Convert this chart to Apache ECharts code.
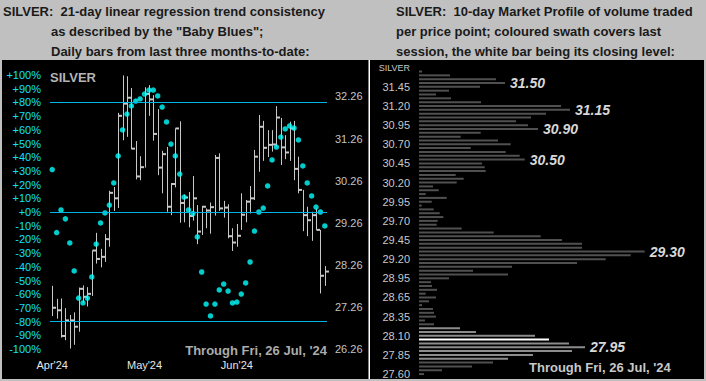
<!DOCTYPE html>
<html>
<head>
<meta charset="utf-8">
<script src="https://cdn.jsdelivr.net/npm/echarts@6/dist/echarts.min.js"></script>
<style>
html,body{margin:0;padding:0;background:#c0c0c0;}
#c{width:706px;height:381px;}
</style>
</head>
<body>
<div id="c"></div>
<script>
// ---------- Left panel: daily bars + Baby Blues ----------
var monthLabels = ["Apr'24", "May'24", "Jun'24"];
var monthIndex = [0, 21, 42];
var pctLevels = [80, 0, -80];
var priceTicks = ['26.26', '27.26', '28.26', '29.26', '30.26', '31.26', '32.26'];

var babyBlues = [31, -15, 1.5, -5, -22.6, -43, -62.8, -66.4, -62.8, -47.4, -23.4, -8, -0.7, 5.1, 21.2, 40.9,
  59.9, 71.5, 77.4, 81, 82.5, 86.1, 89, 89, 84.7, 76.6, 65.7, 49.6, 40.9, 27.7, 10.9, 1.5, -1.1, -18.2,
  -43.8, -67.2, -75.9, -67.2, -56.9, -52.6, -57.7, -66.4, -65.7, -59.9, -51.8, -36.5, -13.9, 0, 2.9, 19,
  38, 47.4, 54.7, 60.6, 62.8, 61.3, 52.6, 33.6, 21.2, 11.7, 3.6, 0, -10.2];

var highs = [27.76, 27.45, 27.46, 27.23, 27.07, 27.13, 27.72, 27.77, 27.73, 28.60, 29.02, 28.64, 28.99, 30.02,
  30.11, 31.87, 32.76, 32.74, 32.46, 31.20, 30.84, 32.48, 32.53, 32.29, 31.96, 30.97, 31.06, 30.20, 31.50,
  31.67, 29.93, 29.99, 30.37, 29.68, 29.66, 29.60, 29.74, 30.87, 30.91, 29.78, 29.70, 29.13, 29.23, 29.96,
  29.80, 30.13, 30.99, 31.82, 31.68, 31.46, 31.46, 32.03, 31.75, 31.34, 31.66, 31.68, 30.83, 30.04, 29.64,
  29.52, 29.60, 29.09, 28.23];
var lows = [27.04, 26.98, 26.53, 26.47, 26.27, 26.36, 26.67, 27.36, 27.27, 27.52, 28.29, 28.20, 28.33, 28.69,
  29.54, 29.61, 31.22, 31.30, 31.01, 30.29, 30.27, 30.57, 31.80, 31.21, 30.39, 29.96, 29.52, 29.44, 30.10,
  29.26, 29.27, 29.15, 29.31, 28.75, 28.97, 29.13, 29.00, 29.43, 29.54, 29.38, 28.89, 28.59, 28.69, 29.09,
  29.27, 29.48, 29.80, 30.47, 30.73, 30.82, 30.95, 31.07, 30.63, 30.77, 30.73, 30.27, 29.96, 29.06, 28.94,
  28.83, 29.09, 27.58, 27.76];
var closes = [27.24, 27.18, 26.57, 26.94, 26.94, 26.79, 27.69, 27.50, 27.57, 28.60, 28.40, 28.45, 28.87, 29.97,
  29.84, 31.80, 32.09, 32.23, 31.02, 30.36, 30.58, 32.32, 32.19, 31.37, 30.57, 30.89, 29.64, 30.18, 31.50,
  29.73, 29.86, 29.42, 29.84, 29.05, 29.64, 29.55, 29.63, 30.80, 29.60, 29.62, 28.94, 28.79, 28.95, 29.45,
  29.76, 29.84, 30.83, 31.54, 31.04, 31.11, 31.12, 31.76, 31.05, 30.93, 31.50, 30.54, 30.04, 29.44, 29.32,
  29.44, 29.09, 28.00, 28.10];

// ---------- Right panel: 10-day market profile ----------
var profileVolume = [3, 31, 77, 86, 61, 30, 17, 32, 62, 142, 151, 127, 112, 97, 109, 119,
  61.7, 41.7, 79, 91.7, 51.7, 86.7, 100.7, 105.7, 63, 65.7, 66.7, 36.7, 44.7, 37.7, 14, 19.7, 6.7, 27.7,
  12.7, 2.7, 14.7, 20.7, 24.3, 18.7, 17.7, 42.7, 74.7, 121.7, 143, 163, 163,
  225.7, 211.7, 186.7, 158, 93, 54, 89, 30, 12, 13, 18, 6.7, 17, 10, 3, 14, 15, 17, 6, 15, 41, 57, 116,
  130, 150, 166, 153, 114, 89, 74, 53, 23, 5];
var profileTicks = ['31.45', '31.20', '30.95', '30.70', '30.45', '30.20', '29.95', '29.70', '29.45',
  '29.20', '28.95', '28.65', '28.35', '28.10', '27.85', '27.60'];
var profileTickStart = 4, profileTickStep = 5;
var peakRows = [3, 10, 15, 23, 47, 72];
var peakLabels = ['31.50', '31.15', '30.90', '30.50', '29.30', '27.95'];
var swathRows = [67, 68, 69, 70, 71, 72, 73, 74, 75];
var closeRow = 70;

var FONT = '"Liberation Sans", Arial, sans-serif';

var days = babyBlues.map(function (v, i) { return String(i); });
var ohlc = highs.map(function (h, i) { return [i, h, lows[i], closes[i]]; });
var rows = profileVolume.map(function (v, i) { return String(i); });
var profileData = profileVolume.map(function (v, i) {
  var color = '#505050';
  if (swathRows.indexOf(i) >= 0) color = '#8c8c8c';
  if (i === closeRow) color = '#ffffff';
  var item = { value: v, itemStyle: { color: color } };
  var p = peakRows.indexOf(i);
  if (p >= 0) item.label = { show: true, formatter: peakLabels[p] };
  return item;
});

function txt(x, y, text, font, fill, align) {
  return {
    type: 'text', x: x, y: y, z: 50,
    style: { text: text, font: font, fill: fill, align: align || 'left', textAlign: align || 'left',
      verticalAlign: 'middle', textVerticalAlign: 'middle' }
  };
}

var chart = echarts.init(document.getElementById('c'), null, { renderer: 'svg' });
chart.setOption({
  backgroundColor: '#c0c0c0',
  animation: false,
  textStyle: { fontFamily: FONT },
  graphic: [
    { type: 'rect', z: -100, shape: { x: 2, y: 60, width: 702, height: 319 }, style: { fill: '#000000' } },
    { type: 'rect', z: 40, shape: { x: 368.5, y: 60, width: 1.5, height: 319 }, style: { fill: '#ffffff' } },
    txt(3, 11, 'SILVER:  21-day linear regression trend consistency', 'bold 13px ' + FONT, '#1a1a1a'),
    txt(51, 31, 'as described by the "Baby Blues";', 'bold 13px ' + FONT, '#1a1a1a'),
    txt(51, 51, 'Daily bars from last three months-to-date:', 'bold 13px ' + FONT, '#1a1a1a'),
    txt(396, 11, 'SILVER:  10-day Market Profile of volume traded', 'bold 13px ' + FONT, '#1a1a1a'),
    txt(396, 31, 'per price point; coloured swath covers last', 'bold 13px ' + FONT, '#1a1a1a'),
    txt(396, 51, 'session, the white bar being its closing level:', 'bold 13px ' + FONT, '#1a1a1a'),
    txt(50, 77, 'SILVER', 'bold 13px ' + FONT, '#b4b4b4'),
    txt(327, 350, "Through Fri, 26 Jul, '24", 'bold 13px ' + FONT, '#acacac', 'right'),
    txt(410, 68, 'SILVER', '9px ' + FONT, '#c8c8c8', 'right'),
    txt(529, 367, "Through Fri, 26 Jul, '24", 'bold 13px ' + FONT, '#c8c8c8')
  ],
  grid: [
    { left: 50, top: 75, width: 277, height: 274 },
    { left: 419, top: 69.6, width: 280, height: 306.4 }
  ],
  xAxis: [
    {
      type: 'category', gridIndex: 0, data: days, boundaryGap: true,
      axisLine: { show: false }, axisTick: { show: false }, splitLine: { show: false },
      axisLabel: {
        color: '#e6e6e6', fontSize: 11, margin: 10,
        interval: function (idx) { return monthIndex.indexOf(idx) >= 0; },
        formatter: function (v, idx) { var k = monthIndex.indexOf(idx); return k >= 0 ? monthLabels[k] : ''; }
      }
    },
    { type: 'value', gridIndex: 1, min: 0, max: 280, show: false }
  ],
  yAxis: [
    {
      type: 'value', gridIndex: 0, min: -100, max: 100, interval: 10, position: 'left',
      axisLine: { show: false }, axisTick: { show: false }, splitLine: { show: false },
      axisLabel: {
        color: '#10e0f8', fontSize: 11, margin: 9,
        formatter: function (v) { v = Math.round(v); return (v >= 0 ? '+' : '') + v + '%'; }
      }
    },
    {
      type: 'value', gridIndex: 0, min: 26.26, max: 32.77, interval: 1, position: 'right',
      axisLine: { show: false }, axisTick: { show: false }, splitLine: { show: false },
      axisLabel: {
        color: '#c4c4c4', fontSize: 11, margin: 8,
        formatter: function (v) { var s = v.toFixed(2); return priceTicks.indexOf(s) >= 0 ? s : ''; }
      }
    },
    {
      type: 'category', gridIndex: 1, data: rows, inverse: true,
      axisLine: { show: false }, axisTick: { show: false }, splitLine: { show: false },
      axisLabel: {
        color: '#c8c8c8', fontSize: 11, margin: 9,
        interval: function (idx) { return idx >= profileTickStart && (idx - profileTickStart) % profileTickStep === 0; },
        formatter: function (v, idx) {
          var k = (idx - profileTickStart) / profileTickStep;
          return (k >= 0 && k === Math.floor(k)) ? profileTicks[k] : '';
        }
      }
    }
  ],
  series: [
    {
      type: 'custom', name: 'Daily bars', xAxisIndex: 0, yAxisIndex: 1, z: 2,
      data: ohlc, encode: { x: 0, y: [1, 2, 3] },
      renderItem: function (params, api) {
        var i = api.value(0);
        var hi = api.coord([i, api.value(1)]);
        var lo = api.coord([i, api.value(2)]);
        var cl = api.coord([i, api.value(3)]);
        var x = Math.round(hi[0]) + 0.5;
        return {
          type: 'group', children: [
            { type: 'line', shape: { x1: x, y1: hi[1], x2: x, y2: lo[1] }, style: { stroke: '#c8c8c8', lineWidth: 1 } },
            { type: 'rect', shape: { x: x, y: cl[1] - 1, width: 3.5, height: 2 }, style: { fill: '#c8c8c8' } }
          ]
        };
      }
    },
    {
      type: 'scatter', name: 'Baby Blues', xAxisIndex: 0, yAxisIndex: 0, z: 4,
      data: babyBlues, symbol: 'circle', symbolSize: 5.5,
      itemStyle: { color: '#00ffff' },
      markLine: {
        silent: true, symbol: ['none', 'none'], label: { show: false },
        lineStyle: { color: '#00b4e8', width: 1, type: 'solid' },
        data: pctLevels.map(function (v) { return { yAxis: v }; })
      }
    },
    {
      type: 'bar', name: 'Profile', xAxisIndex: 1, yAxisIndex: 2, z: 2,
      data: profileData, barWidth: 2,
      label: {
        show: false, position: 'right', distance: 5, color: '#d8d8d8',
        fontSize: 14, fontWeight: 'bold', fontStyle: 'italic', fontFamily: FONT
      }
    }
  ]
});
</script>
</body>
</html>
